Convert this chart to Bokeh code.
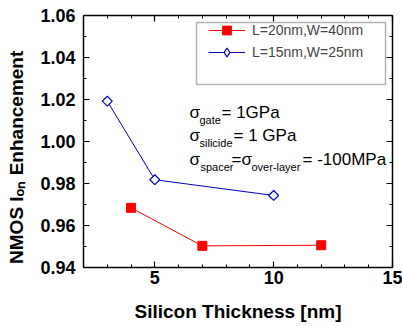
import numpy as np
from bokeh.plotting import figure
from bokeh.models import (Range1d, LinearAxis, FixedTicker, NumeralTickFormatter,
                          Legend, LegendItem, Label, BoxAnnotation)
from bokeh.embed import file_html
from bokeh.resources import INLINE

# ---- data ----
x_red = [4, 7, 12]
y_red = [0.9684, 0.9503, 0.9506]
x_blue = [3, 5, 10]
y_blue = [1.0192, 0.9818, 0.9743]
label_red = "L=20nm,W=40nm"
label_blue = "L=15nm,W=25nm"
x_ticks = [5, 10, 15]
x_minor = list(range(2, 16))
y_ticks = [0.94, 0.96, 0.98, 1.00, 1.02, 1.04, 1.06]
y_minor = [round(0.94 + 0.01 * i, 2) for i in range(13)]
x_title = "Silicon Thickness [nm]"
# subscript "on" written with Unicode subscript letters; trailing no-break
# spaces shift the centred title down to where the reference has it
y_title = "NMOS I\u2092\u2099 Enhancement" + "\u00a0" * 6

FONT = "Liberation Sans"
RED = "#ff0000"
BLUE = "#0000c0"

W, H = 402, 327
p = figure(width=W, height=H, output_backend="svg", toolbar_location=None,
           x_range=Range1d(2, 15), y_range=Range1d(0.94, 1.06),
           min_border_left=83, min_border_right=10, min_border_top=15,
           min_border_bottom=60, x_axis_location=None, y_axis_location=None)
p.grid.visible = False
p.outline_line_color = None
p.background_fill_color = "white"
p.border_fill_color = "white"


def style_axis(ax, labels=True):
    ax.axis_line_color = "black"
    ax.axis_line_width = 1.5
    ax.major_tick_line_color = "black"
    ax.major_tick_line_width = 1.2
    ax.minor_tick_line_color = "black"
    ax.minor_tick_line_width = 1.0
    ax.major_tick_in = 6
    ax.major_tick_out = 0
    ax.minor_tick_in = 3
    ax.minor_tick_out = 0
    ax.major_label_text_font = FONT
    ax.major_label_text_font_style = "bold"
    ax.axis_label_text_font = FONT
    ax.axis_label_text_font_style = "bold"
    ax.axis_label_text_font_size = "19px"
    ax.axis_label_text_color = "black"
    if labels:
        ax.major_label_text_color = "black"
        ax.major_label_text_font_size = "18px"
    else:
        ax.major_label_text_color = None
        ax.major_label_text_font_size = "1px"
        ax.major_label_standoff = 0


xb = LinearAxis(ticker=FixedTicker(ticks=x_ticks, minor_ticks=x_minor))
style_axis(xb)
xb.major_label_standoff = 3
xb.axis_label = x_title
xb.axis_label_standoff = 14
xt = LinearAxis(ticker=FixedTicker(ticks=x_ticks, minor_ticks=x_minor))
style_axis(xt, labels=False)
yl = LinearAxis(ticker=FixedTicker(ticks=y_ticks, minor_ticks=y_minor),
                formatter=NumeralTickFormatter(format="0.00"))
style_axis(yl)
yl.major_label_standoff = 8
yl.axis_label = y_title
yl.axis_label_standoff = 10
yr = LinearAxis(ticker=FixedTicker(ticks=y_ticks, minor_ticks=y_minor))
style_axis(yr, labels=False)
p.add_layout(xb, "below")
p.add_layout(xt, "above")
p.add_layout(yl, "left")
p.add_layout(yr, "right")

# ---- series ----
r_line = p.line(x_red, y_red, line_color=RED, line_width=1)
r_mark = p.scatter(x_red, y_red, marker="square", size=9, fill_color=RED, line_color=RED)
b_line = p.line(x_blue, y_blue, line_color=BLUE, line_width=1)
b_mark = p.scatter(x_blue, y_blue, marker="square", angle=np.pi / 4, size=7,
                   fill_color="white", line_color=BLUE, line_width=1.2)
# legend-only diamond (zero size on the plot, the legend sets its own size)
b_proxy = p.scatter(x_blue, y_blue, marker="diamond", size=0,
                    fill_color="white", line_color=BLUE, line_width=1.2)


# reference pixel -> data helpers (layout only)
def rx(px):
    return 2 + (px - 83) * 13 / 309


def ry(py):
    return 1.06 - (py - 15) * 0.12 / 252


# ---- legend ----
legend = Legend(items=[LegendItem(label=label_red, renderers=[r_line, r_mark]),
                       LegendItem(label=label_blue, renderers=[b_line, b_proxy])],
                location=(208 - 83, 204), orientation="vertical",
                padding=0, margin=0, spacing=0, label_height=19, glyph_height=22,
                glyph_width=37, label_standoff=7,
                label_text_font=FONT, label_text_font_size="14px",
                border_line_color=None, background_fill_alpha=0)
p.add_layout(legend, "center")
p.add_layout(BoxAnnotation(left=rx(196), right=rx(385), top=ry(22), bottom=ry(84),
                           fill_alpha=0, line_color="black", line_width=1.5))


# ---- annotations ----
def lab(txt, x, y, size):
    p.add_layout(Label(x=x, y=y, text=txt, text_font=FONT, text_font_size=size,
                       text_color="black", text_align="left",
                       text_baseline="alphabetic"))


# stress conditions
lab("\u03c3", rx(189), ry(112), "17px")
lab("gate", rx(199), ry(119), "11px")
lab("= 1GPa", rx(221), ry(112), "17px")
lab("\u03c3", rx(189), ry(135), "17px")
lab("silicide", rx(199), ry(142), "11px")
lab("= 1 GPa", rx(233), ry(135), "17px")
lab("\u03c3", rx(189), ry(159), "17px")
lab("spacer", rx(200), ry(166), "11px")
lab("=\u03c3", rx(231), ry(159), "17px")
lab("over-layer", rx(251), ry(166), "11px")
lab("= -100MPa", rx(302), ry(159), "17px")

open("out.html", "w").write(file_html(p, INLINE))
